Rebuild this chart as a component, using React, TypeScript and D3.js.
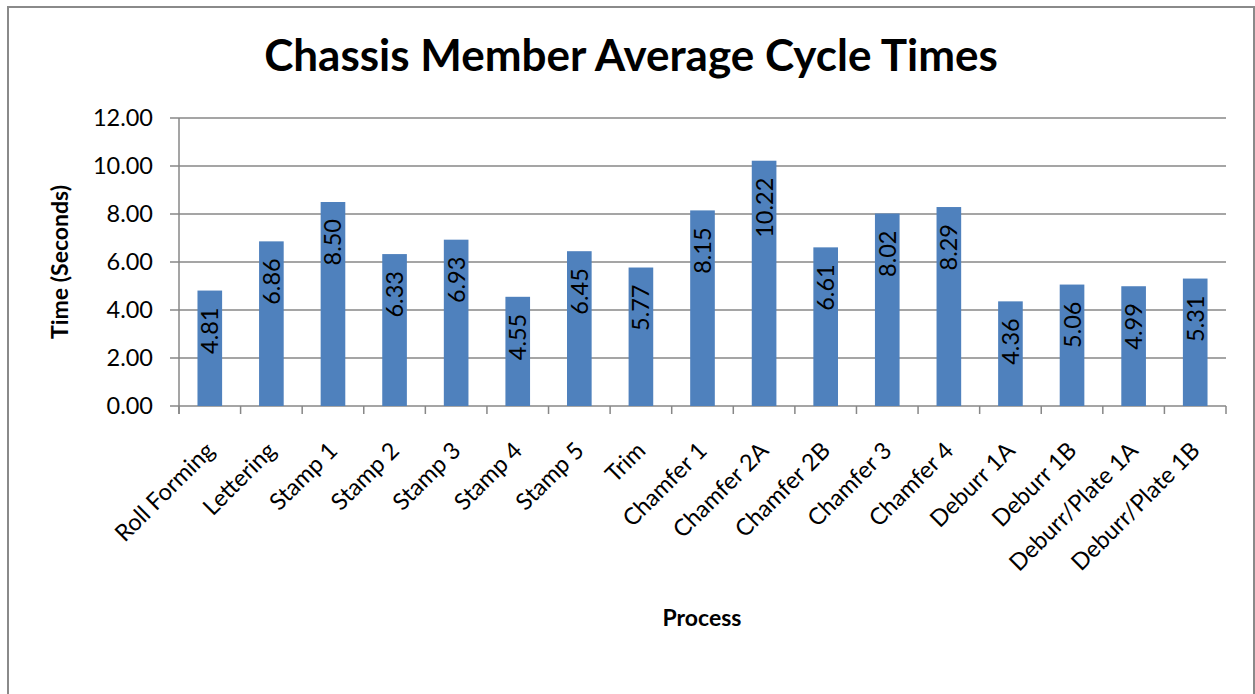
import React from "react";
import * as d3 from "d3";

const categories = [
  "Roll Forming", "Lettering", "Stamp 1", "Stamp 2", "Stamp 3", "Stamp 4", "Stamp 5",
  "Trim", "Chamfer 1", "Chamfer 2A", "Chamfer 2B", "Chamfer 3", "Chamfer 4",
  "Deburr 1A", "Deburr 1B", "Deburr/Plate 1A", "Deburr/Plate 1B",
];
const values = [4.81, 6.86, 8.5, 6.33, 6.93, 4.55, 6.45, 5.77, 8.15, 10.22, 6.61, 8.02, 8.29, 4.36, 5.06, 4.99, 5.31];
const yTicks = [0, 2, 4, 6, 8, 10, 12];
const title = "Chassis Member Average Cycle Times";
const xTitle = "Process";
const yTitle = "Time (Seconds)";

const W = 1255;
const H = 694;
const left = 179;
const right = 1226;
const top = 118;
const bottom = 406;
const FONT = "Lato, 'Open Sans', sans-serif";
const GRID = "#878787";

export default function App() {
  const x = d3.scaleBand<string>().domain(categories).range([left, right]).paddingInner(0.6).paddingOuter(0.3);
  const xOuter = d3.scaleBand<string>().domain(categories).range([left, right]);
  const y = d3.scaleLinear().domain([0, 12]).range([bottom, top]);
  const fmt = d3.format(".2f");

  return (
    <svg width={W} height={H} style={{ position: "absolute", left: 0, top: 0, background: "#fff" }} fontFamily={FONT}>
      <rect x={8} y={7} width={1246} height={720} fill="#fff" stroke="#8a8a8a" strokeWidth={2} />
      <text x={631} y={71} textAnchor="middle" fontWeight="bold" fontSize={44} fill="#000">{title}</text>

      {yTicks.map((t) => (
        <g key={t}>
          <line x1={170} x2={right} y1={y(t)} y2={y(t)} stroke={GRID} strokeWidth={1.5} />
          <text x={153} y={y(t)} dy="0.36em" textAnchor="end" fontSize={23.5} fill="#000">{fmt(t)}</text>
        </g>
      ))}
      <line x1={left} x2={left} y1={top} y2={bottom + 8} stroke={GRID} strokeWidth={1.5} />
      {categories.map((c) => (
        <line key={"t" + c} x1={xOuter(c)!} x2={xOuter(c)!} y1={bottom} y2={bottom + 8} stroke={GRID} strokeWidth={1.5} />
      ))}
      <line x1={right} x2={right} y1={bottom} y2={bottom + 8} stroke={GRID} strokeWidth={1.5} />

      {categories.map((c, i) => {
        const bx = x(c)!;
        const bw = x.bandwidth();
        const cx = bx + bw / 2;
        const yt = y(values[i]);
        return (
          <g key={c}>
            <rect x={bx} y={yt} width={bw} height={bottom - yt} fill="#4F81BD" />
            <text
              transform={`translate(${cx + 8.5},${yt + 17}) rotate(-90)`}
              textAnchor="end"
              fontSize={23.5}
              fill="#000"
            >
              {fmt(values[i])}
            </text>
          </g>
        );
      })}

      {categories.map((c) => {
        const cx = xOuter(c)! + xOuter.bandwidth() / 2;
        return (
          <text
            key={"l" + c}
            transform={`translate(${cx + 6},${bottom + 46}) rotate(-45)`}
            textAnchor="end"
            fontSize={23.5}
            fill="#000"
          >
            {c}
          </text>
        );
      })}

      <text x={702} y={626} textAnchor="middle" fontWeight="bold" fontSize={23} fill="#000">{xTitle}</text>
      <text transform={`translate(68,262) rotate(-90)`} textAnchor="middle" fontWeight="bold" fontSize={23} fill="#000">{yTitle}</text>
    </svg>
  );
}
